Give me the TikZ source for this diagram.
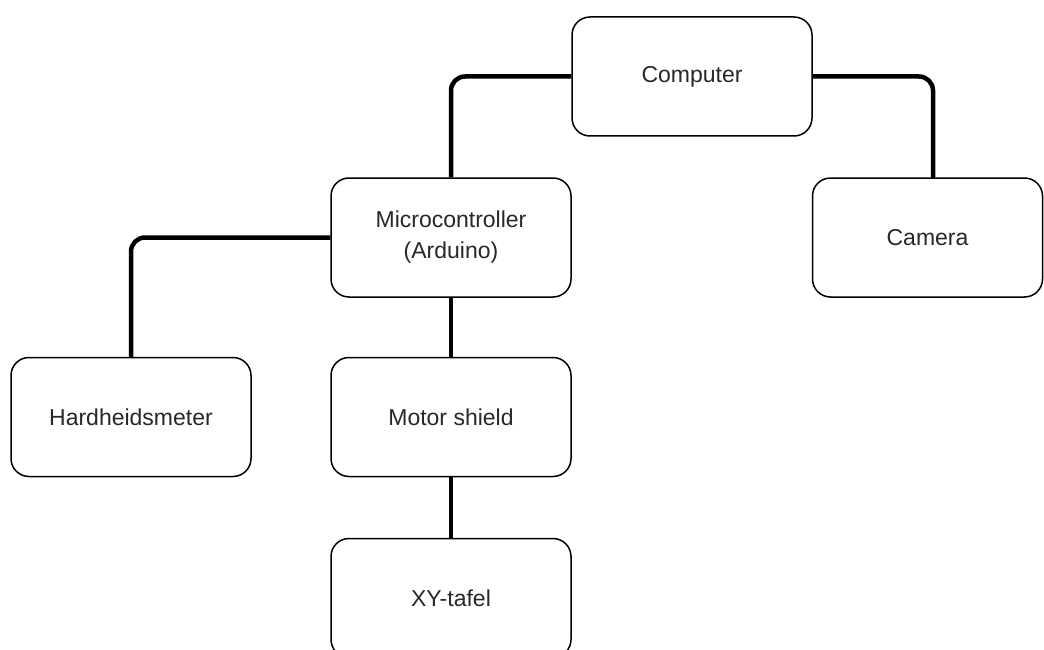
\documentclass[tikz,border=0pt]{standalone}
\usepackage{fontspec}
\setmainfont{Liberation Sans}
\definecolor{txt}{RGB}{40,40,40}
\begin{document}
\begin{tikzpicture}[x=1pt,y=-1pt,
  box/.style={draw=black, line width=1.5pt, rounded corners=18pt, fill=white,
    minimum width=240pt, minimum height=119pt, inner sep=0pt, align=center,
    text=txt, font=\fontsize{23}{31}\selectfont},
  link/.style={line width=4.5pt, rounded corners=14pt}]
\clip (0,0) rectangle (1044,650);
\fill[white] (0,0) rectangle (1044,650);
\node[box] (comp) at (692,76.5) {Computer};
\node[box] (micro) at (451,237.5) {Microcontroller\\(Arduino)};
\node[box, minimum width=230pt] (cam) at (927.5,237.5) {Camera};
\node[box] (hard) at (131,417) {Hardheidsmeter};
\node[box] (motor) at (451,417) {Motor shield};
\node[box] (xy) at (451,598) {XY-tafel};
\coordinate (camtop) at (933,178);
\draw[link] (comp.west) -| (micro.north);
\draw[link] (comp.east) -| (camtop);
\draw[link] (micro.west) -| (hard.north);
\draw[link] (micro.south) -- (motor.north);
\draw[link] (motor.south) -- (xy.north);
\end{tikzpicture}
\end{document}
